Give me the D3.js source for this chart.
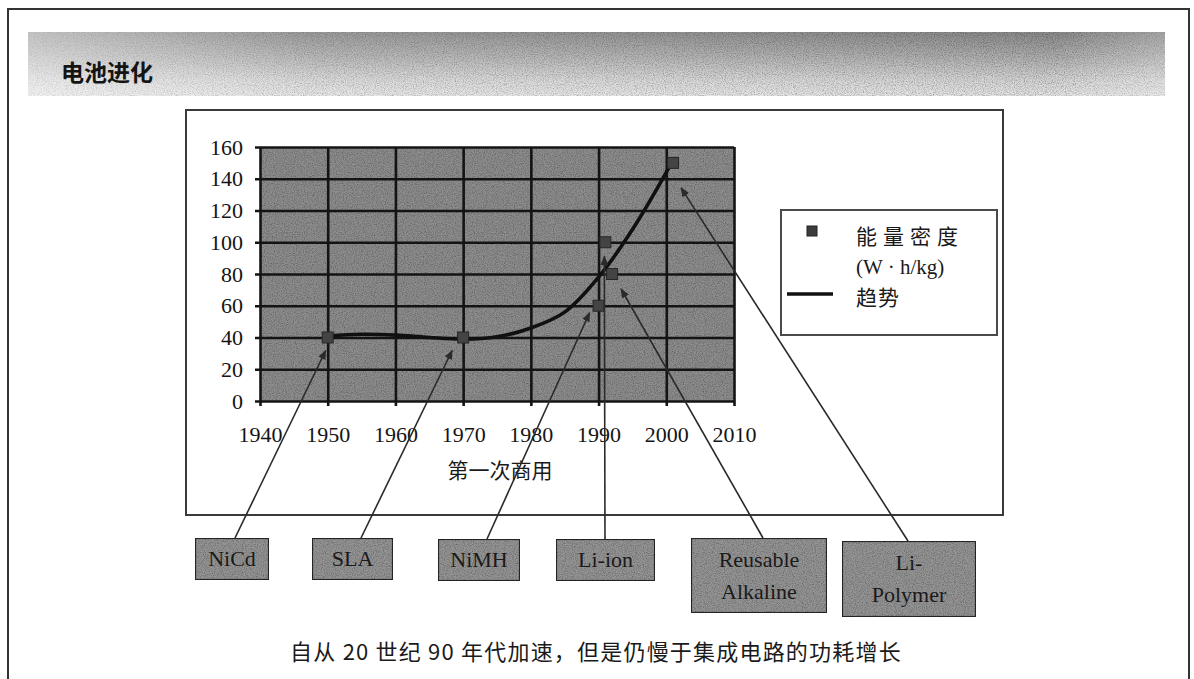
<!DOCTYPE html>
<html>
<head>
<meta charset="utf-8">
<script src="https://cdn.jsdelivr.net/npm/d3@7"></script>
<style>
  html, body { margin: 0; padding: 0; background: #fff; }
  svg { display: block; }
</style>
</head>
<body>
<svg id="chart" width="1194" height="679"></svg>
<script>
// Battery types and the year each reached the market, with energy density (W·h/kg)
const batteries = ["NiCd", "SLA", "NiMH", "Li-ion", "Reusable Alkaline", "Li-Polymer"];
const firstYears = [1950, 1970, 1990, 1991, 1992, 2001];
const densities = [40, 40, 60, 100, 80, 150];

// Trend curve through the points
const trendYears = [1950, 1955, 1960, 1965, 1970, 1975, 1980, 1985, 1990, 1995, 2000, 2001];
const trendValues = [41, 42, 41.5, 40, 39, 40.5, 46, 56, 78, 108, 144, 152];

// Axis ticks
const xTicks = [1940, 1950, 1960, 1970, 1980, 1990, 2000, 2010];
const yTicks = [0, 20, 40, 60, 80, 100, 120, 140, 160];

// Text
const titleText = "电池进化";
const xAxisTitle = "第一次商用";
const legendSeries = ["能量密度", "(W · h/kg)"];
const legendTrend = "趋势";
const captionText = "自从 20 世纪 90 年代加速，但是仍慢于集成电路的功耗增长";

// Callout box layout: box rect, where the leader leaves the box, and tip offset from its point
const calloutLayout = [
  { x: 195, y: 538, w: 74,  h: 42, lines: ["NiCd"],               sx: 235, tdx: -2,  tdy: 13 },
  { x: 312, y: 538, w: 81,  h: 42, lines: ["SLA"],                sx: 361, tdx: -11, tdy: 13 },
  { x: 438, y: 539, w: 82,  h: 42, lines: ["NiMH"],               sx: 487, tdx: -9,  tdy: 7 },
  { x: 556, y: 539, w: 99,  h: 42, lines: ["Li-ion"],             sx: 605, tdx: -1,  tdy: 14 },
  { x: 691, y: 538, w: 136, h: 75, lines: ["Reusable", "Alkaline"], sx: 763, tdx: 9, tdy: 15 },
  { x: 842, y: 541, w: 134, h: 76, lines: ["Li-", "Polymer"],     sx: 908, tdx: 8,  tdy: 25 }
];

const svg = d3.select("#chart");
const serif = "'Liberation Serif', 'Times New Roman', serif";
const cjk = "'Noto Sans CJK SC', 'Noto Sans', sans-serif";

const defs = svg.append("defs");

// Fine grain used on gray fills
const grain = defs.append("filter").attr("id", "grain")
  .attr("x", 0).attr("y", 0).attr("width", 1).attr("height", 1);
grain.append("feTurbulence").attr("type", "fractalNoise")
  .attr("baseFrequency", 0.9).attr("numOctaves", 2).attr("seed", 7).attr("result", "noise");
grain.append("feColorMatrix").attr("in", "noise").attr("type", "matrix")
  .attr("values", "0 0 0 0 0  0 0 0 0 0  0 0 0 0 0  0 0 0 -1.1 0.7").attr("result", "dots");
grain.append("feComposite").attr("in", "dots").attr("in2", "SourceGraphic")
  .attr("operator", "in").attr("result", "dotsIn");
const gm = grain.append("feMerge");
gm.append("feMergeNode").attr("in", "SourceGraphic");
gm.append("feMergeNode").attr("in", "dotsIn");

// Title band gradients
const vg = defs.append("linearGradient").attr("id", "bandV")
  .attr("x1", 0).attr("y1", 0).attr("x2", 0).attr("y2", 1);
vg.append("stop").attr("offset", "0%").attr("stop-color", "#8a8a8a");
vg.append("stop").attr("offset", "40%").attr("stop-color", "#b0b0b0");
vg.append("stop").attr("offset", "75%").attr("stop-color", "#d6d6d6");
vg.append("stop").attr("offset", "100%").attr("stop-color", "#e6e6e6");
const hg = defs.append("linearGradient").attr("id", "bandH")
  .attr("x1", 0).attr("y1", 0).attr("x2", 1).attr("y2", 0);
hg.append("stop").attr("offset", "0%").attr("stop-color", "#ffffff").attr("stop-opacity", 0.5);
hg.append("stop").attr("offset", "25%").attr("stop-color", "#ffffff").attr("stop-opacity", 0.15);
hg.append("stop").attr("offset", "90%").attr("stop-color", "#ffffff").attr("stop-opacity", 0);
hg.append("stop").attr("offset", "100%").attr("stop-color", "#ffffff").attr("stop-opacity", 0.25);

// Arrow head for leader lines
defs.append("marker").attr("id", "arrow")
  .attr("viewBox", "0 0 10 10").attr("refX", 9).attr("refY", 5)
  .attr("markerWidth", 6).attr("markerHeight", 6).attr("orient", "auto")
  .append("path").attr("d", "M0,1 L10,5 L0,9 Z").attr("fill", "#2a2a2a");

// Page frame
svg.append("path")
  .attr("d", "M8,679 L8,9 L1189,9 L1189,679")
  .attr("fill", "none").attr("stroke", "#333").attr("stroke-width", 2);

// Title band
svg.append("rect").attr("x", 28).attr("y", 32).attr("width", 1137).attr("height", 64)
  .attr("fill", "url(#bandV)").attr("filter", "url(#grain)");
svg.append("rect").attr("x", 28).attr("y", 32).attr("width", 1137).attr("height", 64)
  .attr("fill", "url(#bandH)");
svg.append("text").attr("x", 61).attr("y", 81)
  .attr("font-family", cjk).attr("font-weight", 700).attr("font-size", 23)
  .attr("fill", "#141414").text(titleText);

// Chart frame
svg.append("rect").attr("x", 186).attr("y", 110).attr("width", 817).attr("height", 405)
  .attr("fill", "#fff").attr("stroke", "#3a3a3a").attr("stroke-width", 2);

// Scales
const x = d3.scaleLinear().domain([1940, 2010]).range([260, 734]);
const y = d3.scaleLinear().domain([0, 160]).range([401, 147]);
const plotW = x.range()[1] - x.range()[0];
const plotH = y.range()[0] - y.range()[1];

// Plot background
svg.append("rect")
  .attr("x", x(1940)).attr("y", y(160)).attr("width", plotW).attr("height", plotH)
  .attr("fill", "#8e8e8e").attr("filter", "url(#grain)");

// Gridlines and tick labels via axes
const tickOut = 5;
const yAxis = svg.append("g")
  .attr("transform", `translate(${x(1940) - tickOut},0)`)
  .call(d3.axisLeft(y).tickValues(yTicks).tickSize(-(plotW + tickOut)).tickPadding(12).tickFormat(d3.format("d")));
const xAxis = svg.append("g")
  .attr("transform", `translate(0,${y(0) + tickOut})`)
  .call(d3.axisBottom(x).tickValues(xTicks).tickSize(-(plotH + tickOut)).tickPadding(20).tickFormat(d3.format("d")));

[yAxis, xAxis].forEach(g => {
  g.select(".domain").remove();
  g.selectAll(".tick line").attr("stroke", "#141414").attr("stroke-width", 2.6);
  g.selectAll(".tick text").attr("font-family", serif).attr("font-size", 22).attr("fill", "#141414");
});

// Axis title
svg.append("text").attr("x", 500).attr("y", 478).attr("text-anchor", "middle")
  .attr("font-family", cjk).attr("font-size", 21).attr("fill", "#1a1a1a").text(xAxisTitle);

// Trend curve
const trendLine = d3.line().x(d => x(d[0])).y(d => y(d[1])).curve(d3.curveCatmullRom.alpha(0.5));
svg.append("path")
  .datum(d3.zip(trendYears, trendValues))
  .attr("d", trendLine)
  .attr("fill", "none").attr("stroke", "#101010").attr("stroke-width", 3.6)
  .attr("stroke-linecap", "round");

// Data points
const pts = d3.zip(firstYears, densities);
const sq = 11;
svg.append("g").selectAll("rect").data(pts).join("rect")
  .attr("x", d => x(d[0]) - sq / 2).attr("y", d => y(d[1]) - sq / 2)
  .attr("width", sq).attr("height", sq)
  .attr("fill", "#444").attr("stroke", "#262626").attr("stroke-width", 1);

// Legend
const lg = svg.append("g");
lg.append("rect").attr("x", 781).attr("y", 210).attr("width", 216).attr("height", 125)
  .attr("fill", "#fff").attr("stroke", "#4a4a4a").attr("stroke-width", 2);
lg.append("rect").attr("x", 807).attr("y", 226).attr("width", 10).attr("height", 10)
  .attr("fill", "#3c3c3c").attr("stroke", "#222").attr("stroke-width", 1);
lg.append("text").attr("x", 856).attr("y", 244)
  .attr("font-family", cjk).attr("font-size", 21).attr("letter-spacing", 6)
  .attr("fill", "#1a1a1a").text(legendSeries[0]);
lg.append("text").attr("x", 856).attr("y", 274)
  .attr("font-family", serif).attr("font-size", 21)
  .attr("fill", "#1a1a1a").text(legendSeries[1]);
lg.append("line").attr("x1", 787).attr("x2", 833).attr("y1", 294).attr("y2", 294)
  .attr("stroke", "#111").attr("stroke-width", 3.4);
lg.append("text").attr("x", 856).attr("y", 305)
  .attr("font-family", cjk).attr("font-size", 21).attr("letter-spacing", 1)
  .attr("fill", "#1a1a1a").text(legendTrend);

// Callout boxes with leaders to each battery's point
const callouts = calloutLayout.map((b, i) => ({ ...b, name: batteries[i], year: firstYears[i], value: densities[i] }));

svg.append("g").selectAll("line").data(callouts).join("line")
  .attr("x1", d => d.sx).attr("y1", d => d.y)
  .attr("x2", d => x(d.year) + d.tdx).attr("y2", d => y(d.value) + d.tdy)
  .attr("stroke", "#2a2a2a").attr("stroke-width", 1.6)
  .attr("marker-end", "url(#arrow)");

const boxes = svg.append("g").selectAll("g").data(callouts).join("g");
boxes.append("rect")
  .attr("x", d => d.x).attr("y", d => d.y).attr("width", d => d.w).attr("height", d => d.h)
  .attr("fill", "#959595").attr("stroke", "#2a2a2a").attr("stroke-width", 2.2)
  .attr("filter", "url(#grain)");
boxes.append("text")
  .attr("text-anchor", "middle")
  .attr("font-family", serif).attr("font-size", 22).attr("fill", "#1a1a1a")
  .each(function (d) {
    const t = d3.select(this);
    const lh = 32;
    const first = d.y + d.h / 2 + 7 - (d.lines.length - 1) * lh / 2;
    d.lines.forEach((ln, k) => {
      t.append("tspan").attr("x", d.x + d.w / 2).attr("y", first + k * lh).text(ln);
    });
  });

// Caption
svg.append("text").attr("x", 596).attr("y", 660).attr("text-anchor", "middle")
  .attr("font-family", cjk).attr("font-size", 22).attr("letter-spacing", 1.2)
  .attr("fill", "#1a1a1a").text(captionText);
</script>
</body>
</html>
